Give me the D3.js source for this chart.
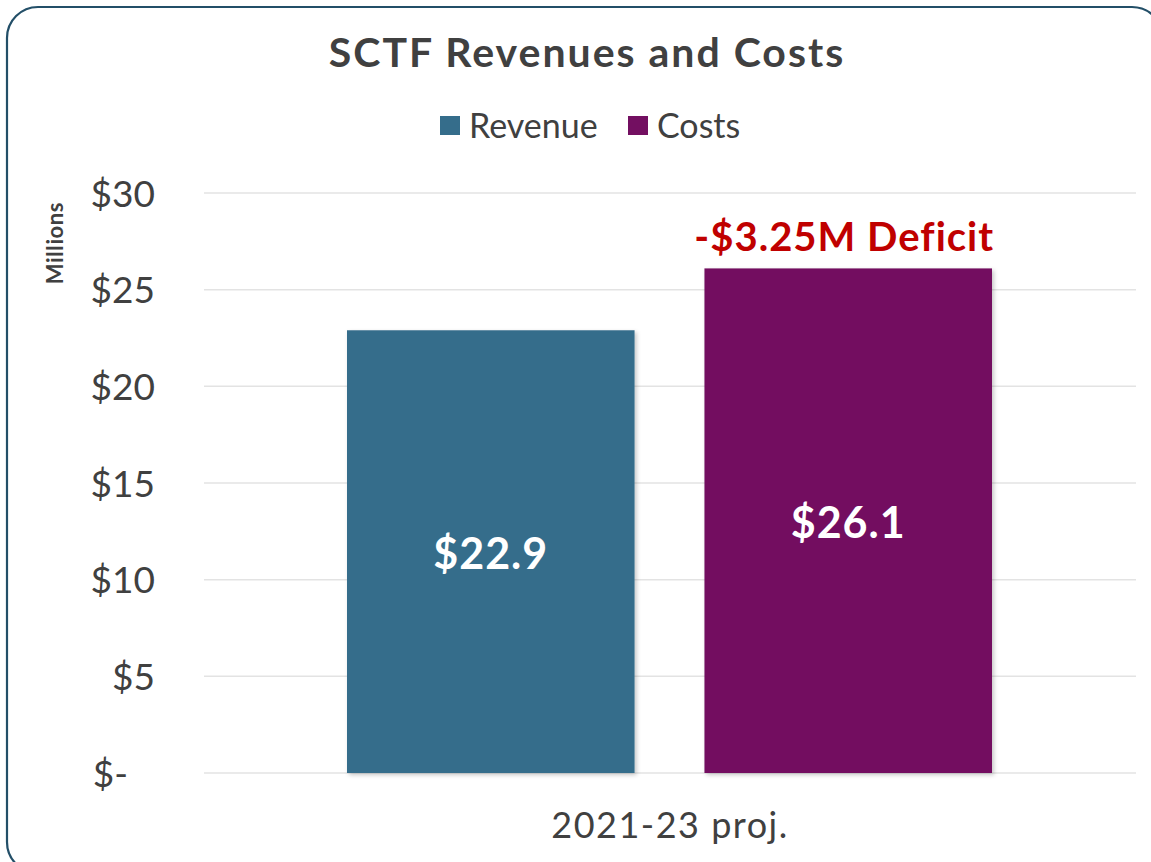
<!DOCTYPE html>
<html>
<head>
<meta charset="utf-8">
<script src="https://cdn.jsdelivr.net/npm/d3@7/dist/d3.min.js"></script>
<style>
  html, body { margin: 0; padding: 0; background: #ffffff; overflow: hidden; }
  svg { display: block; }
  text { font-family: "Lato", "Open Sans", sans-serif; }
</style>
</head>
<body>
<script>
// Series and labels
const categories = ["2021-23 proj."];
const seriesNames = ["Revenue", "Costs"];
const seriesColors = ["#356d8b", "#730f61"];
const revenueValues = [22.9];
const costValues = [26.1];
const valueLabels = ["$22.9", "$26.1"];
const yTicks = [0, 5, 10, 15, 20, 25, 30];
const yTickLabels = ["$-", "$5", "$10", "$15", "$20", "$25", "$30"];
const deficitLabel = "-$3.25M Deficit";

const W = 1151, H = 862;
const margin = { left: 204, right: 15, top: 193, bottom: 89 };
const plotRight = W - margin.right;   // 1136
const plotBottom = H - margin.bottom; // 773

const svg = d3.select("body").append("svg")
  .attr("width", W).attr("height", H);

const defs = svg.append("defs");
const shadow = defs.append("filter").attr("id", "barShadow")
  .attr("x", "-10%").attr("y", "-10%").attr("width", "130%").attr("height", "130%");
shadow.append("feDropShadow")
  .attr("dx", 2).attr("dy", 2).attr("stdDeviation", 2)
  .attr("flood-color", "#000").attr("flood-opacity", 0.22);

// Chart frame
svg.append("rect")
  .attr("x", 7).attr("y", 7)
  .attr("width", 1156).attr("height", 866)
  .attr("rx", 31).attr("ry", 31)
  .attr("fill", "#ffffff")
  .attr("stroke", "#234f68").attr("stroke-width", 2.2);

const y = d3.scaleLinear().domain([0, 30]).range([plotBottom, margin.top]);
const x0 = d3.scaleBand().domain(categories).range([margin.left, plotRight]);
const x1 = d3.scaleBand().domain(seriesNames)
  .range([x0.bandwidth() / 2 - 323, x0.bandwidth() / 2 + 322])
  .paddingInner(0.1955);

// Gridlines
svg.append("g").selectAll("line").data(yTicks).join("line")
  .attr("x1", margin.left).attr("x2", plotRight)
  .attr("y1", d => y(d)).attr("y2", d => y(d))
  .attr("stroke", "#e3e3e3").attr("stroke-width", 1.5);

// Y axis labels
const yAxis = d3.axisLeft(y).tickValues(yTicks)
  .tickFormat((d, i) => yTickLabels[i]).tickSize(0).tickPadding(0);
const yG = svg.append("g").attr("transform", `translate(155,0)`).call(yAxis);
yG.select(".domain").remove();
yG.selectAll("text")
  .attr("fill", "#404040")
  .style("font-size", "37px")
  .attr("dy", "0.36em")
  .attr("dx", d => d === 0 ? -27 : 0);

// Axis title
svg.append("text")
  .attr("transform", "translate(63,243) rotate(-90)")
  .attr("text-anchor", "middle")
  .attr("fill", "#404040")
  .style("font-size", "22px").style("font-weight", "bold")
  .style("letter-spacing", "0.6px")
  .text("Millions");

// Bars
const rows = categories.map((c, i) => ({
  category: c,
  values: [
    { name: seriesNames[0], value: revenueValues[i], label: valueLabels[0] },
    { name: seriesNames[1], value: costValues[i], label: valueLabels[1] }
  ]
}));
const color = d3.scaleOrdinal().domain(seriesNames).range(seriesColors);

const groups = svg.append("g").selectAll("g").data(rows).join("g")
  .attr("transform", d => `translate(${x0(d.category)},0)`);

groups.selectAll("rect").data(d => d.values).join("rect")
  .attr("x", d => x1(d.name))
  .attr("y", d => y(d.value))
  .attr("width", x1.bandwidth())
  .attr("height", d => y(0) - y(d.value))
  .attr("fill", d => color(d.name))
  .attr("filter", "url(#barShadow)");

groups.selectAll("text.value").data(d => d.values).join("text")
  .attr("class", "value")
  .attr("x", d => x1(d.name) + x1.bandwidth() / 2)
  .attr("y", d => (y(d.value) + y(0)) / 2 + 2)
  .attr("dy", "0.36em")
  .attr("text-anchor", "middle")
  .attr("fill", "#ffffff")
  .style("font-size", "43px").style("font-weight", "bold")
  .style("letter-spacing", "1px")
  .text(d => d.label);

// Deficit annotation above the costs bar
groups.append("text")
  .attr("x", d => x1(seriesNames[1]) + x1.bandwidth() / 2 - 4)
  .attr("y", d => y(d.values[1].value) - 17)
  .attr("text-anchor", "middle")
  .attr("fill", "#c00000")
  .style("font-size", "40px").style("font-weight", "bold")
  .style("letter-spacing", "1px")
  .text(deficitLabel);

// Category axis label
svg.append("g").selectAll("text").data(categories).join("text")
  .attr("x", d => x0(d) + x0.bandwidth() / 2)
  .attr("y", 838)
  .attr("text-anchor", "middle")
  .attr("fill", "#404040")
  .style("font-size", "36px")
  .style("letter-spacing", "1.5px")
  .text(d => d);

// Title
svg.append("text")
  .attr("x", 587).attr("y", 67)
  .attr("text-anchor", "middle")
  .attr("fill", "#404040")
  .style("font-size", "41px").style("font-weight", "bold")
  .style("letter-spacing", "2px")
  .text("SCTF Revenues and Costs");

// Legend
const legendX = [440, 628];
const legend = svg.append("g").selectAll("g").data(seriesNames).join("g")
  .attr("transform", (d, i) => `translate(${legendX[i]},116)`);
legend.append("rect")
  .attr("width", 20).attr("height", 19)
  .attr("fill", d => color(d));
legend.append("text")
  .attr("x", 29).attr("y", 10).attr("dy", "0.36em")
  .attr("fill", "#404040")
  .style("font-size", "34px")
  .text(d => d);
</script>
</body>
</html>
